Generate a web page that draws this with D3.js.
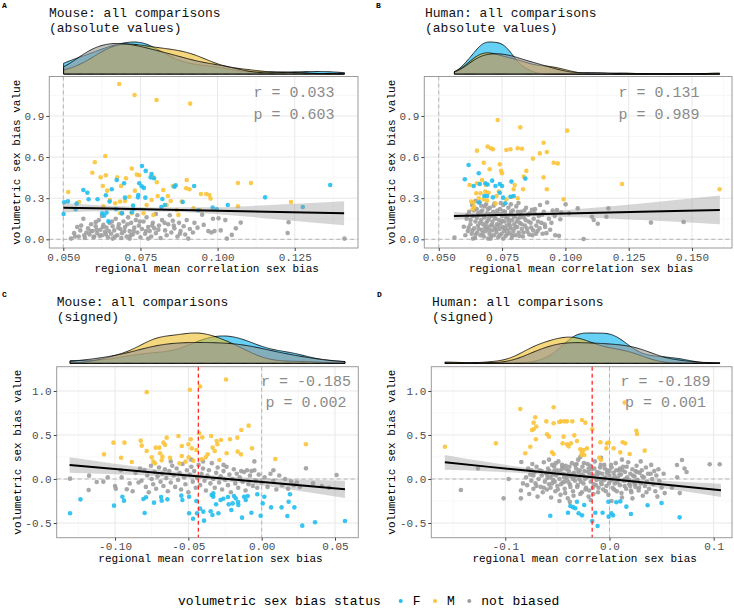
<!DOCTYPE html>
<html lang="en">
<head>
<meta charset="utf-8">
<title>volumetric sex bias vs regional mean correlation sex bias</title>
<style>
  body { margin: 0; background: #fff; }
  text { font-family: "Liberation Mono", "DejaVu Sans Mono", monospace; }
</style>
</head>
<body>
<script src="https://cdn.jsdelivr.net/npm/d3@7"></script>
<script>

// ---------- data ----------
var groups = ["F", "M", "not biased"];
var groupColors = ["#22BEF0", "#FBC43A", "#9E9E9E"];
var densColors = ["#00B2EE", "#EEBC26", "#969696"];
var legendTitle = "volumetric sex bias status";
var xTitle = "regional mean correlation sex bias";
var yTitle = "volumetric sex bias value";

// panel A : mouse, absolute values
var titleA = ["Mouse: all comparisons", "(absolute values)"];
var statsA = ["r = 0.033", "p = 0.603"];
var xTicksA = [0.05, 0.075, 0.1, 0.125];
var xLabelsA = ["0.050", "0.075", "0.100", "0.125"];
var yTicksA = [0, 0.3, 0.6, 0.9];
var yLabelsA = ["0.0", "0.3", "0.6", "0.9"];
var xDomainA = [0.04546, 0.1455];
var yDomainA = [-0.0635, 1.188];
var refXA = [0.05];
var meanXA = [];
var fitXA = [0.050, 0.065, 0.080, 0.100, 0.120, 0.141];
var fitYA = [0.231, 0.224, 0.2175, 0.2085, 0.1995, 0.190];
var fitSeA = [0.035, 0.020, 0.015, 0.025, 0.055, 0.088];
var fA = [[0.1365,0.396],[0.1154,0.306],[0.1033,0.250],[0.1276,0.236],[0.0755,0.535],[0.0767,0.499],[0.0786,0.477],[0.0783,0.452],[0.0794,0.445],[0.0746,0.409],[0.0754,0.387],[0.0761,0.375],[0.0673,0.433],[0.0657,0.365],[0.0565,0.360],[0.0578,0.340],[0.0582,0.292],[0.0611,0.292],[0.0638,0.321],[0.0650,0.275],[0.0515,0.277],[0.0503,0.270],[0.0543,0.260],[0.0501,0.185],[0.0540,0.219],[0.0697,0.409],[0.0700,0.304],[0.0743,0.323],[0.0742,0.306],[0.0766,0.304],[0.0887,0.272],[0.0924,0.389],[0.0864,0.394],[0.0860,0.384],[0.0821,0.294],[0.0829,0.250],[0.0818,0.236],[0.0726,0.246],[0.0727,0.219],[0.0722,0.197],[0.0671,0.219],[0.0626,0.190],[0.0632,0.173],[0.0646,0.131],[0.0640,0.195],[0.0690,0.190],[0.0937,0.212],[0.0984,0.231],[0.0997,0.219]];
var mA = [[0.0681,1.133],[0.0731,1.053],[0.0802,1.017],[0.0911,0.990],[0.0636,0.608],[0.0602,0.562],[0.0594,0.486],[0.0621,0.452],[0.0638,0.467],[0.0628,0.389],[0.0642,0.355],[0.0675,0.452],[0.0703,0.445],[0.0722,0.516],[0.0738,0.472],[0.0746,0.467],[0.0687,0.389],[0.0732,0.355],[0.0516,0.345],[0.0551,0.272],[0.0792,0.452],[0.0803,0.416],[0.0824,0.360],[0.0806,0.316],[0.0839,0.316],[0.0848,0.280],[0.0855,0.389],[0.0900,0.433],[0.0898,0.372],[0.0909,0.365],[0.0946,0.331],[0.0963,0.331],[0.0973,0.323],[0.0977,0.297],[0.1066,0.411],[0.1108,0.411],[0.1066,0.241],[0.1238,0.272],[0.0651,0.287],[0.0668,0.263],[0.0684,0.275],[0.0700,0.280],[0.0714,0.311],[0.0630,0.240],[0.0786,0.287],[0.0770,0.250],[0.0884,0.275],[0.0868,0.214],[0.0873,0.178],[0.0792,0.178],[0.0760,0.190],[0.0835,0.250],[0.0922,0.226],[0.0943,0.214],[0.0684,0.190],[0.0722,0.190]];
var nA = [[0.0535,0.045],[0.0545,0.09],[0.055,0.02],[0.0555,0.065],[0.057,0.01],[0.0575,0.05],[0.058,0.08],[0.0585,0.035],[0.059,0.11],[0.0595,0.06],[0.060,0.02],[0.0605,0.095],[0.061,0.045],[0.0615,0.14],[0.062,0.07],[0.0625,0.03],[0.063,0.105],[0.0635,0.055],[0.064,0.085],[0.0645,0.015],[0.065,0.12],[0.0655,0.04],[0.066,0.095],[0.0665,0.065],[0.067,0.15],[0.0675,0.03],[0.068,0.11],[0.0685,0.075],[0.069,0.045],[0.0695,0.13],[0.070,0.09],[0.0705,0.02],[0.071,0.16],[0.0715,0.06],[0.072,0.12],[0.0725,0.035],[0.073,0.085],[0.0735,0.14],[0.074,0.05],[0.0745,0.1],[0.075,0.015],[0.0755,0.075],[0.076,0.13],[0.0765,0.04],[0.077,0.16],[0.0775,0.09],[0.078,0.06],[0.0785,0.02],[0.079,0.12],[0.0795,0.08],[0.080,0.045],[0.081,0.1],[0.0815,0.01],[0.082,0.14],[0.083,0.065],[0.0835,0.03],[0.084,0.11],[0.085,0.05],[0.0855,0.135],[0.086,0.08],[0.087,0.02],[0.0875,0.12],[0.088,0.06],[0.089,0.095],[0.0895,0.035],[0.090,0.14],[0.091,0.075],[0.092,0.05],[0.0925,0.12],[0.0935,0.085],[0.095,0.18],[0.097,0.06],[0.098,0.05],[0.0985,0.15],[0.099,0.06],[0.1003,0.153],[0.101,0.065],[0.1025,0.14],[0.103,0.005],[0.1046,0.032],[0.1059,0.080],[0.1075,0.122],[0.1227,0.046],[0.123,0.124],[0.1411,0.005],[0.0525,0.005],[0.0565,0.15],[0.0625,0.17],[0.069,0.19],[0.074,0.175],[0.080,0.185],[0.0605,0.125],[0.066,0.005],[0.0715,0.005],[0.0775,0.005],[0.0845,0.175],[0.0905,0.005],[0.0955,0.105],[0.0538,0.02],[0.0558,0.1],[0.0568,0.03],[0.0588,0.06],[0.0598,0.015],[0.0608,0.07],[0.0618,0.025],[0.0628,0.09],[0.0638,0.035],[0.0648,0.06],[0.0658,0.13],[0.0668,0.02],[0.0678,0.085],[0.0688,0.01],[0.0698,0.06],[0.0708,0.11],[0.0718,0.03],[0.0728,0.06],[0.0748,0.13],[0.0768,0.06],[0.0788,0.1],[0.0808,0.07],[0.0828,0.12],[0.0858,0.1],[0.0878,0.04]];

// panel B : human, absolute values
var titleB = ["Human: all comparisons", "(absolute values)"];
var statsB = ["r = 0.131", "p = 0.989"];
var xTicksB = [0.05, 0.075, 0.1, 0.125, 0.15];
var xLabelsB = ["0.050", "0.075", "0.100", "0.125", "0.150"];
var yTicksB = [0, 0.3, 0.6, 0.9];
var yLabelsB = ["0.0", "0.3", "0.6", "0.9"];
var xDomainB = [0.0443, 0.1658];
var yDomainB = [-0.0635, 1.188];
var refXB = [0.05];
var meanXB = [];
var fitXB = [0.056, 0.070, 0.080, 0.100, 0.130, 0.161];
var fitYB = [0.170, 0.1759, 0.180, 0.1884, 0.201, 0.214];
var fitSeB = [0.030, 0.013, 0.012, 0.025, 0.060, 0.105];
var fB = [[0.0618,0.542],[0.0603,0.438],[0.0658,0.482],[0.0638,0.389],[0.0662,0.404],[0.0684,0.409],[0.0693,0.400],[0.0711,0.428],[0.0724,0.389],[0.0741,0.404],[0.0750,0.389],[0.0787,0.421],[0.0842,0.443],[0.0691,0.316],[0.0714,0.306],[0.0741,0.340],[0.0754,0.304],[0.0783,0.311],[0.0796,0.316],[0.0658,0.268],[0.0763,0.263],[0.0680,0.316]];
var mB = [[0.0733,0.871],[0.0822,0.817],[0.1007,0.793],[0.0914,0.705],[0.0651,0.647],[0.0693,0.676],[0.0706,0.664],[0.0714,0.657],[0.0767,0.652],[0.0783,0.657],[0.0812,0.664],[0.0829,0.661],[0.0927,0.637],[0.0899,0.627],[0.0678,0.559],[0.0741,0.547],[0.0746,0.499],[0.0750,0.482],[0.0701,0.511],[0.0872,0.589],[0.0954,0.559],[0.0970,0.554],[0.0846,0.499],[0.0836,0.457],[0.0914,0.452],[0.0927,0.365],[0.0993,0.292],[0.1224,0.404],[0.1609,0.365],[0.0833,0.365],[0.0800,0.396],[0.0796,0.365],[0.0622,0.396],[0.0651,0.409],[0.0671,0.433],[0.0686,0.396],[0.0648,0.336],[0.0665,0.336],[0.0684,0.348],[0.0697,0.340],[0.0658,0.300],[0.0638,0.268],[0.0628,0.275],[0.0678,0.292],[0.0691,0.282],[0.0728,0.316],[0.0737,0.348],[0.0812,0.299],[0.0767,0.292],[0.0640,0.238],[0.0634,0.219],[0.0724,0.260],[0.0789,0.311]];
var nB = [[0.0562,0.012],[0.0599,0.092],[0.0605,0.03],[0.061,0.15],[0.0615,0.06],[0.062,0.2],[0.0625,0.11],[0.063,0.04],[0.0632,0.25],[0.0635,0.17],[0.064,0.08],[0.0643,0.01],[0.0645,0.13],[0.065,0.22],[0.0652,0.05],[0.0655,0.1],[0.066,0.18],[0.0662,0.27],[0.0665,0.03],[0.0668,0.14],[0.067,0.07],[0.0672,0.21],[0.0675,0.11],[0.0678,0.02],[0.068,0.16],[0.0682,0.24],[0.0685,0.06],[0.0688,0.12],[0.069,0.19],[0.0692,0.09],[0.0695,0.005],[0.0698,0.15],[0.070,0.04],[0.0702,0.23],[0.0705,0.1],[0.0708,0.17],[0.071,0.065],[0.0712,0.13],[0.0715,0.2],[0.0718,0.03],[0.072,0.26],[0.0722,0.085],[0.0725,0.15],[0.0728,0.05],[0.073,0.11],[0.0732,0.19],[0.0735,0.015],[0.0738,0.14],[0.074,0.075],[0.0742,0.22],[0.0745,0.12],[0.0748,0.04],[0.075,0.17],[0.0752,0.09],[0.0755,0.25],[0.0758,0.06],[0.076,0.13],[0.0762,0.2],[0.0765,0.025],[0.0768,0.1],[0.077,0.16],[0.0772,0.07],[0.0775,0.23],[0.0778,0.12],[0.078,0.045],[0.0783,0.18],[0.0785,0.08],[0.0788,0.01],[0.079,0.14],[0.0793,0.21],[0.0795,0.06],[0.0798,0.11],[0.080,0.17],[0.0803,0.03],[0.0806,0.24],[0.081,0.09],[0.0813,0.15],[0.0816,0.05],[0.082,0.12],[0.0824,0.2],[0.0828,0.075],[0.0832,0.02],[0.0836,0.16],[0.084,0.1],[0.0845,0.23],[0.085,0.055],[0.0855,0.13],[0.086,0.19],[0.0865,0.085],[0.087,0.03],[0.0875,0.15],[0.088,0.22],[0.0885,0.1],[0.089,0.06],[0.0895,0.17],[0.090,0.25],[0.0905,0.12],[0.091,0.04],[0.0915,0.2],[0.092,0.09],[0.0928,0.268],[0.0935,0.15],[0.094,0.07],[0.095,0.21],[0.096,0.03],[0.0967,0.214],[0.0975,0.025],[0.098,0.146],[0.0984,0.195],[0.1001,0.255],[0.1015,0.19],[0.1049,0.226],[0.1072,0.002],[0.1105,0.165],[0.1112,0.141],[0.1128,0.114],[0.1162,0.165],[0.117,0.226],[0.1338,0.122],[0.1467,0.126],[0.0635,0.005],[0.0668,0.245],[0.0705,0.005],[0.0745,0.265],[0.0785,0.255],[0.0725,0.185],[0.0695,0.22],[0.0655,0.19],[0.0645,0.28],[0.0755,0.005],[0.0815,0.265],[0.0612,0.175],[0.0618,0.085],[0.0626,0.14],[0.0633,0.065],[0.0638,0.21],[0.0646,0.035],[0.0651,0.155],[0.0658,0.075],[0.0663,0.12],[0.0667,0.2],[0.0673,0.045],[0.0677,0.175],[0.0683,0.09],[0.0687,0.255],[0.0693,0.135],[0.0697,0.07],[0.0703,0.185],[0.0707,0.025],[0.0711,0.105],[0.0717,0.245],[0.0721,0.155],[0.0726,0.07],[0.0731,0.21],[0.0736,0.1],[0.0741,0.03],[0.0746,0.185],[0.0751,0.135],[0.0756,0.205],[0.0761,0.08],[0.0766,0.16],[0.0771,0.04],[0.0776,0.145],[0.0781,0.1],[0.0786,0.2],[0.0791,0.03],[0.0797,0.165],[0.0802,0.085],[0.0808,0.13],[0.0812,0.2],[0.0818,0.025],[0.0822,0.16],[0.0827,0.11],[0.0834,0.05],[0.0838,0.21],[0.0843,0.14],[0.0848,0.08],[0.0853,0.18],[0.0858,0.035],[0.0863,0.12],[0.0868,0.215],[0.0873,0.065],[0.0878,0.19],[0.0884,0.04],[0.0892,0.13],[0.0898,0.08],[0.0908,0.18],[0.0918,0.11],[0.0925,0.045],[0.0945,0.12],[0.0958,0.17]];

// panel C : mouse, signed
var titleC = ["Mouse: all comparisons", "(signed)"];
var statsC = ["r = -0.185", "p = 0.002"];
var xTicksC = [-0.1, -0.05, 0, 0.05];
var xLabelsC = ["-0.10", "-0.05", "0.00", "0.05"];
var yTicksC = [-0.5, 0, 0.5, 1];
var yLabelsC = ["-0.5", "0.0", "0.5", "1.0"];
var xDomainC = [-0.1398, 0.0659];
var yDomainC = [-0.667, 1.276];
var refXC = [0];
var meanXC = [-0.0432];
var fitXC = [-0.131, -0.10, -0.07, -0.04, -0.01, 0.02, 0.0568];
var fitYC = [0.159, 0.1134, 0.0693, 0.0252, -0.0189, -0.0630, -0.117];
var fitSeC = [0.087, 0.060, 0.037, 0.027, 0.035, 0.060, 0.098];
var fC = [[-0.1307,-0.390],[-0.1236,-0.231],[-0.1007,-0.303],[-0.0950,-0.201],[-0.0939,-0.246],[-0.0798,-0.386],[-0.0807,-0.227],[-0.0789,-0.208],[-0.0734,-0.269],[-0.0686,-0.205],[-0.0682,-0.246],[-0.0643,-0.231],[-0.0548,-0.189],[-0.0541,-0.239],[-0.0495,-0.201],[-0.0495,-0.390],[-0.0468,-0.451],[-0.0445,-0.250],[-0.0441,-0.390],[-0.0420,-0.337],[-0.0398,-0.371],[-0.0393,-0.473],[-0.0348,-0.367],[-0.0336,-0.409],[-0.0341,-0.182],[-0.0330,-0.201],[-0.0330,-0.163],[-0.0311,-0.288],[-0.0295,-0.390],[-0.0280,-0.239],[-0.0261,-0.224],[-0.0230,-0.205],[-0.0225,-0.288],[-0.0207,-0.352],[-0.0198,-0.277],[-0.0189,-0.193],[-0.0177,-0.220],[-0.0161,-0.261],[-0.0159,-0.295],[-0.0134,-0.439],[-0.0120,-0.201],[-0.0109,-0.239],[-0.0095,-0.193],[-0.0070,-0.383],[-0.0030,-0.174],[-0.0007,-0.417],[0.0007,-0.277],[0.0018,-0.201],[0.0064,-0.322],[0.0136,-0.322],[0.0175,-0.420],[0.0184,-0.258],[0.0193,-0.174],[0.0223,-0.322],[0.0277,-0.530],[0.0364,-0.492],[0.0568,-0.477]];
var mC = [[-0.0784,0.987],[-0.0489,1.013],[-0.0420,1.051],[-0.0243,1.131],[-0.1011,0.413],[-0.0936,0.413],[-0.1075,0.280],[-0.0959,0.242],[-0.0886,0.193],[-0.0825,0.436],[-0.0818,0.379],[-0.0784,0.318],[-0.0750,0.246],[-0.0739,0.197],[-0.0727,0.178],[-0.0723,0.356],[-0.0698,0.356],[-0.0693,0.292],[-0.0670,0.413],[-0.0659,0.386],[-0.0648,0.470],[-0.0677,0.254],[-0.0682,0.212],[-0.0625,0.242],[-0.0568,0.489],[-0.0545,0.375],[-0.0545,0.261],[-0.0561,0.178],[-0.0520,0.197],[-0.0500,0.394],[-0.0484,0.451],[-0.0498,0.246],[-0.0477,0.348],[-0.0466,0.208],[-0.0445,0.330],[-0.0427,0.519],[-0.0405,0.473],[-0.0411,0.223],[-0.0382,0.246],[-0.0368,0.280],[-0.0345,0.489],[-0.0334,0.356],[-0.0302,0.394],[-0.0320,0.318],[-0.0289,0.216],[-0.0277,0.443],[-0.0307,0.432],[-0.0239,0.292],[-0.0216,0.451],[-0.0166,0.470],[-0.0164,0.311],[-0.0141,0.280],[-0.0139,0.557],[-0.0089,0.606],[-0.0066,0.348],[0.0093,0.227],[0.0302,0.394]];
var nC = [[-0.1307,0.004],[-0.1177,0.038],[-0.118,-0.125],[-0.1125,-0.034],[-0.1,-0.08],[-0.0995,-0.11],[-0.092,-0.117],[-0.088,-0.14],[-0.0955,0.02],[-0.09,-0.05],[-0.086,0.07],[-0.083,0.12],[-0.082,-0.02],[-0.08,0.1],[-0.079,-0.09],[-0.078,0.04],[-0.077,-0.15],[-0.0755,0.15],[-0.075,0.0],[-0.074,-0.06],[-0.073,0.08],[-0.072,-0.11],[-0.071,0.03],[-0.07,0.13],[-0.069,-0.03],[-0.068,0.06],[-0.067,-0.08],[-0.066,0.11],[-0.065,0.01],[-0.064,-0.14],[-0.063,0.09],[-0.062,-0.04],[-0.061,0.15],[-0.06,0.04],[-0.059,-0.09],[-0.058,0.12],[-0.057,-0.01],[-0.056,0.07],[-0.055,-0.12],[-0.054,0.17],[-0.053,0.02],[-0.052,-0.06],[-0.051,0.1],[-0.05,-0.15],[-0.049,0.05],[-0.048,0.14],[-0.047,-0.03],[-0.046,0.09],[-0.045,-0.1],[-0.044,0.01],[-0.043,0.16],[-0.042,-0.07],[-0.041,0.06],[-0.04,0.12],[-0.039,-0.02],[-0.038,-0.13],[-0.037,0.04],[-0.036,0.1],[-0.035,-0.05],[-0.034,0.18],[-0.033,0.0],[-0.032,-0.1],[-0.031,0.07],[-0.03,0.13],[-0.029,-0.04],[-0.028,0.03],[-0.027,-0.12],[-0.026,0.09],[-0.025,-0.01],[-0.024,0.14],[-0.023,-0.07],[-0.022,0.05],[-0.021,-0.15],[-0.02,0.0],[-0.019,0.11],[-0.018,-0.05],[-0.017,0.06],[-0.016,-0.1],[-0.015,0.02],[-0.014,0.09],[-0.013,-0.03],[-0.012,0.08],[-0.011,-0.13],[-0.01,0.1],[-0.009,-0.06],[-0.008,0.04],[-0.007,0.09],[-0.006,-0.08],[-0.005,0.1],[-0.004,-0.02],[-0.003,-0.1],[-0.002,0.05],[0.0,-0.04],[0.002,0.02],[0.004,-0.09],[0.006,0.06],[0.008,-0.02],[0.01,-0.12],[0.012,0.04],[0.014,-0.07],[0.016,0.0],[0.018,-0.11],[0.02,-0.03],[0.022,-0.07],[0.024,-0.04],[0.026,-0.09],[0.0302,0.121],[0.0511,0.045],[0.035,-0.05],[0.041,-0.08],[0.046,-0.1],[-0.108,-0.03],[-0.105,0.02],[-0.096,0.1],[-0.084,-0.04],[-0.062,0.2],[-0.048,0.22],[-0.04,0.2],[-0.026,0.16],[-0.005,0.2],[0.008,0.1]];

// panel D : human, signed
var titleD = ["Human: all comparisons", "(signed)"];
var statsD = ["r = -0.189", "p = 0.001"];
var xTicksD = [-0.1, 0, 0.1];
var xLabelsD = ["-0.1", "0.0", "0.1"];
var yTicksD = [-0.5, 0, 0.5, 1];
var yLabelsD = ["-0.5", "0.0", "0.5", "1.0"];
var xDomainD = [-0.171, 0.1176];
var yDomainD = [-0.667, 1.276];
var refXD = [0];
var meanXD = [-0.0166];
var fitXD = [-0.158, -0.12, -0.08, -0.04, 0.0, 0.04, 0.107];
var fitYD = [0.189, 0.1434, 0.0954, 0.0474, -0.0006, -0.0486, -0.129];
var fitSeD = [0.085, 0.055, 0.032, 0.022, 0.025, 0.037, 0.075];
var fD = [[-0.0568,-0.417],[-0.0376,-0.307],[-0.0350,-0.320],[-0.0328,-0.333],[-0.0312,-0.258],[-0.0398,-0.383],[-0.0296,-0.390],[-0.0264,-0.413],[-0.0242,-0.295],[-0.0165,-0.477],[-0.0114,-0.534],[-0.0136,-0.383],[-0.0066,-0.383],[-0.0011,-0.258],[-0.0008,-0.428],[0.0018,-0.390],[0.0034,-0.413],[0.0066,-0.265],[0.0104,-0.254],[0.0162,-0.314],[0.0206,-0.398],[0.0366,-0.299],[0.0500,-0.273],[0.0674,-0.436]];
var mD = [[-0.0856,0.795],[-0.0536,0.815],[0.0146,0.868],[-0.1579,0.367],[-0.1090,0.405],[-0.0728,0.640],[-0.0712,0.701],[-0.0702,0.595],[-0.0744,0.557],[-0.0728,0.565],[-0.0606,0.655],[-0.0536,0.633],[-0.0482,0.648],[-0.0466,0.655],[-0.0434,0.655],[-0.0408,0.655],[-0.0357,0.655],[-0.0264,0.670],[-0.0232,0.640],[-0.0165,0.564],[-0.0600,0.508],[-0.0581,0.481],[-0.0706,0.451],[-0.0440,0.481],[-0.0338,0.496],[-0.0312,0.432],[-0.0760,0.367],[-0.0808,0.292],[-0.0552,0.303],[-0.0536,0.284],[-0.0450,0.405],[-0.0408,0.394],[-0.0392,0.371],[-0.0370,0.405],[-0.0280,0.337],[-0.0248,0.330],[-0.0216,0.348],[-0.0270,0.273],[-0.0242,0.273],[-0.0264,0.303],[-0.0088,0.417],[-0.0024,0.405],[-0.0008,0.413],[-0.0030,0.348],[0.0040,0.348],[0.0104,0.303],[0.0126,0.417],[0.0152,0.405],[0.0194,0.284],[0.0258,0.549],[0.0264,0.511],[0.0338,0.322],[-0.0098,0.242],[-0.0082,0.216]];
var nD = [[-0.1426,-0.125],[-0.1262,0.121],[-0.1016,-0.22],[-0.0968,0.0],[-0.0846,0.193],[-0.085,-0.13],[-0.085,-0.22],[0.0648,0.159],[0.0696,0.216],[0.0675,-0.16],[0.072,0.12],[0.074,0.08],[0.0962,0.167],[0.1058,0.167],[0.065,0.02],[0.06,-0.1],[-0.08,0.02],[-0.079,-0.07],[-0.078,0.12],[-0.077,-0.17],[-0.076,0.05],[-0.075,-0.02],[-0.074,0.17],[-0.073,-0.11],[-0.072,0.08],[-0.071,-0.05],[-0.07,0.14],[-0.069,-0.2],[-0.068,0.0],[-0.067,0.1],[-0.066,-0.09],[-0.065,0.04],[-0.064,-0.15],[-0.063,0.19],[-0.062,-0.03],[-0.061,0.07],[-0.06,-0.12],[-0.059,0.12],[-0.058,-0.06],[-0.057,0.02],[-0.056,-0.21],[-0.055,0.16],[-0.054,-0.01],[-0.053,0.09],[-0.052,-0.14],[-0.051,0.04],[-0.05,-0.08],[-0.049,0.2],[-0.048,0.0],[-0.047,-0.18],[-0.046,0.11],[-0.045,-0.04],[-0.044,0.06],[-0.043,-0.11],[-0.042,0.15],[-0.041,0.01],[-0.04,-0.22],[-0.039,0.09],[-0.038,-0.06],[-0.037,0.03],[-0.036,0.18],[-0.035,-0.14],[-0.034,0.07],[-0.033,-0.02],[-0.032,0.12],[-0.031,-0.09],[-0.03,0.22],[-0.029,0.0],[-0.028,-0.17],[-0.027,0.05],[-0.026,0.14],[-0.025,-0.05],[-0.024,0.09],[-0.023,-0.12],[-0.022,0.02],[-0.021,0.17],[-0.02,-0.2],[-0.019,0.06],[-0.018,-0.03],[-0.017,0.11],[-0.016,-0.1],[-0.015,0.04],[-0.014,0.2],[-0.013,-0.07],[-0.012,0.08],[-0.011,-0.15],[-0.01,0.0],[-0.009,0.13],[-0.008,-0.04],[-0.007,0.06],[-0.006,-0.12],[-0.005,0.16],[-0.004,0.02],[-0.003,-0.08],[-0.002,0.1],[-0.001,-0.18],[0.0,0.04],[0.001,-0.02],[0.002,0.13],[0.003,-0.1],[0.004,0.07],[0.005,-0.05],[0.006,0.18],[0.007,-0.14],[0.008,0.01],[0.009,0.1],[0.01,-0.07],[0.011,0.05],[0.012,-0.21],[0.013,0.14],[0.014,-0.02],[0.015,0.08],[0.016,-0.11],[0.017,0.02],[0.018,0.19],[0.019,-0.06],[0.02,0.06],[0.021,-0.15],[0.022,0.11],[0.023,-0.03],[0.024,0.03],[0.025,-0.09],[0.026,0.15],[0.027,-0.01],[0.028,-0.13],[0.029,0.07],[0.03,-0.05],[0.031,0.1],[0.032,-0.19],[0.033,0.02],[0.034,-0.08],[0.035,0.13],[0.036,-0.03],[0.037,0.06],[0.038,-0.11],[0.04,0.16],[0.041,0.0],[0.042,-0.06],[0.043,0.09],[0.044,-0.14],[0.045,0.04],[0.046,-0.2],[0.047,0.11],[0.048,-0.02],[0.05,-0.1],[0.052,0.06],[0.053,-0.16],[-0.06,0.05],[-0.05,0.1],[-0.045,0.13],[-0.04,0.05],[-0.035,0.0],[-0.03,0.08],[-0.025,0.04],[-0.02,0.12],[-0.015,-0.06],[-0.01,0.07],[-0.005,-0.01],[0.0,0.09],[0.005,0.03],[0.01,0.12],[0.015,0.0],[0.02,-0.08],[0.025,0.09],[-0.055,-0.05],[-0.065,0.09],[-0.07,-0.08],[-0.075,0.1],[-0.058,0.22],[-0.048,-0.25],[-0.038,-0.26],[-0.028,0.25],[-0.018,-0.24],[-0.008,0.24],[0.002,-0.25],[0.012,0.22],[0.022,-0.22],[0.03,0.2],[-0.033,0.16],[-0.043,-0.03],[-0.053,0.14],[-0.063,-0.1],[-0.073,0.04],[-0.083,-0.05],[-0.0595,0.01],[-0.0575,0.09],[-0.0565,-0.1],[-0.0545,0.05],[-0.0525,-0.03],[-0.0515,0.18],[-0.0495,-0.12],[-0.0475,0.07],[-0.0465,-0.06],[-0.0455,0.16],[-0.0435,0.02],[-0.0425,-0.16],[-0.0415,0.11],[-0.0395,-0.03],[-0.0385,0.14],[-0.0375,-0.09],[-0.0355,0.06],[-0.0345,-0.19],[-0.0325,0.03],[-0.0315,0.17],[-0.0305,-0.07],[-0.0285,0.1],[-0.0275,-0.03],[-0.0265,-0.15],[-0.0245,0.18],[-0.0235,0.0],[-0.0225,-0.1],[-0.0205,0.08],[-0.0195,-0.13],[-0.0185,0.15],[-0.0165,0.03],[-0.0155,-0.17],[-0.0145,0.12],[-0.0125,-0.01],[-0.0115,0.05],[-0.0105,-0.1],[-0.0085,0.16],[-0.0075,-0.06],[-0.0065,0.0],[-0.0045,0.12],[-0.0035,-0.14],[-0.0025,0.07],[-0.0005,-0.05],[0.0015,0.16],[0.0025,0.0],[0.0045,-0.12],[0.0065,0.1],[0.0075,-0.04],[0.0095,0.05],[0.0115,-0.16],[0.0125,0.1],[0.0145,-0.08],[0.0165,0.14],[0.0185,-0.01],[0.0205,-0.13],[0.0225,0.04],[0.0245,-0.06],[0.0265,0.08],[0.0285,-0.1],[0.0315,0.03],[0.0355,-0.15],[0.0395,0.06]];

// ---------- layout ----------
var w = 734;
var h = 609;
var svg = d3.select("body").append("svg").attr("width", w).attr("height", h);

// gaussian kde with R's bw.nrd0 bandwidth
function kde(xs, lo, hi) {
  var s = xs.slice().sort(d3.ascending);
  var n = s.length;
  var sd = d3.deviation(s);
  var iqr = d3.quantile(s, 0.75) - d3.quantile(s, 0.25);
  var bw = 0.9 * Math.min(sd, iqr / 1.34) * Math.pow(n, -0.2);
  var out = [];
  for (var i = 0; i <= 256; i++) {
    var x = lo + (hi - lo) * i / 256;
    var sum = 0;
    for (var j = 0; j < n; j++) {
      var u = (x - s[j]) / bw;
      sum += Math.exp(-0.5 * u * u);
    }
    out.push([x, sum / (n * bw * Math.sqrt(2 * Math.PI))]);
  }
  return out;
}

function drawPanel(p) {
  var g = svg.append("g");
  var x = d3.scaleLinear().domain(p.xDomain).range([p.box.left, p.box.right]);
  var y = d3.scaleLinear().domain(p.yDomain).range([p.box.bottom, p.box.top]);

  // panel label and title
  g.append("text").text(p.tag).attr("x", p.tagX).attr("y", p.tagY)
    .attr("font-size", 8).attr("font-weight", "bold");
  p.title.forEach(function(t, i) {
    g.append("text").text(t).attr("x", p.titleX).attr("y", p.titleY + i * 15)
      .attr("font-size", 13).attr("fill", "#111");
  });

  // grid lines (major + minor)
  var minorX = [], minorY = [];
  for (var i = 0; i < p.xTicks.length - 1; i++) minorX.push((p.xTicks[i] + p.xTicks[i + 1]) / 2);
  minorX.push(p.xTicks[p.xTicks.length - 1] + (p.xTicks[1] - p.xTicks[0]) / 2);
  minorX.unshift(p.xTicks[0] - (p.xTicks[1] - p.xTicks[0]) / 2);
  for (var k = 0; k < p.yTicks.length - 1; k++) minorY.push((p.yTicks[k] + p.yTicks[k + 1]) / 2);
  minorY.push(p.yTicks[p.yTicks.length - 1] + (p.yTicks[1] - p.yTicks[0]) / 2);
  minorY.unshift(p.yTicks[0] - (p.yTicks[1] - p.yTicks[0]) / 2);
  minorX = minorX.filter(function(v) { return v > p.xDomain[0] && v < p.xDomain[1]; });
  minorY = minorY.filter(function(v) { return v > p.yDomain[0] && v < p.yDomain[1]; });

  var grid = g.append("g");
  grid.selectAll(".mx").data(minorX).enter().append("line")
    .attr("x1", x).attr("x2", x).attr("y1", p.box.top).attr("y2", p.box.bottom)
    .attr("stroke", "#f4f4f4").attr("stroke-width", 0.6);
  grid.selectAll(".my").data(minorY).enter().append("line")
    .attr("y1", y).attr("y2", y).attr("x1", p.box.left).attr("x2", p.box.right)
    .attr("stroke", "#f4f4f4").attr("stroke-width", 0.6);
  grid.selectAll(".gx").data(p.xTicks).enter().append("line")
    .attr("x1", x).attr("x2", x).attr("y1", p.box.top).attr("y2", p.box.bottom)
    .attr("stroke", "#e8e8e8").attr("stroke-width", 1);
  grid.selectAll(".gy").data(p.yTicks).enter().append("line")
    .attr("y1", y).attr("y2", y).attr("x1", p.box.left).attr("x2", p.box.right)
    .attr("stroke", "#e8e8e8").attr("stroke-width", 1);

  // reference lines
  g.append("line").attr("x1", p.box.left).attr("x2", p.box.right)
    .attr("y1", y(0)).attr("y2", y(0))
    .attr("stroke", "#b5b5b5").attr("stroke-width", 1).attr("stroke-dasharray", "4,3");
  g.selectAll(".ref").data(p.refX).enter().append("line")
    .attr("x1", x).attr("x2", x).attr("y1", p.box.top).attr("y2", p.box.bottom)
    .attr("stroke", "#b5b5b5").attr("stroke-width", 1).attr("stroke-dasharray", "4,3");

  // points
  var pts = g.append("g");
  [2, 1, 0].forEach(function(gi) {
    pts.selectAll(".p" + gi).data(p.points[gi]).enter().append("circle")
      .attr("cx", function(d) { return x(d[0]); })
      .attr("cy", function(d) { return y(d[1]); })
      .attr("r", 2.3)
      .attr("fill", groupColors[gi])
      .attr("fill-opacity", 0.9);
  });

  // mean line (red)
  g.selectAll(".mean").data(p.meanX).enter().append("line")
    .attr("x1", x).attr("x2", x).attr("y1", p.box.top).attr("y2", p.box.bottom)
    .attr("stroke", "#ff2a2a").attr("stroke-width", 1.3).attr("stroke-dasharray", "4,3");

  // regression band and line
  var fit = p.fitX.map(function(v, i) { return [v, p.fitY[i], p.fitSe[i]]; });
  g.append("path").datum(fit)
    .attr("d", d3.area().curve(d3.curveMonotoneX)
      .x(function(d) { return x(d[0]); })
      .y0(function(d) { return y(d[1] - d[2]); })
      .y1(function(d) { return y(d[1] + d[2]); }))
    .attr("fill", "#999").attr("fill-opacity", 0.4);
  g.append("path").datum(fit)
    .attr("d", d3.line().x(function(d) { return x(d[0]); }).y(function(d) { return y(d[1]); }))
    .attr("fill", "none").attr("stroke", "#000").attr("stroke-width", 2);

  // stats text
  p.stats.forEach(function(t, i) {
    g.append("text").text(t).attr("x", p.statsX).attr("y", p.statsY + i * p.statsGap)
      .attr("text-anchor", "middle").attr("font-size", 15).attr("fill", "#8a8a8a");
  });

  // panel border
  g.append("rect").attr("x", p.box.left).attr("y", p.box.top)
    .attr("width", p.box.right - p.box.left).attr("height", p.box.bottom - p.box.top)
    .attr("fill", "none").attr("stroke", "#9a9a9a").attr("stroke-width", 1);

  // axes
  var xAxis = d3.axisBottom(x).tickValues(p.xTicks).tickSize(3).tickPadding(2)
    .tickFormat(function(d, i) { return p.xLabels[i]; });
  var yAxis = d3.axisLeft(y).tickValues(p.yTicks).tickSize(3).tickPadding(2)
    .tickFormat(function(d, i) { return p.yLabels[i]; });
  var gx = g.append("g").attr("transform", "translate(0," + p.box.bottom + ")").call(xAxis);
  var gy = g.append("g").attr("transform", "translate(" + p.box.left + ",0)").call(yAxis);
  [gx, gy].forEach(function(a) {
    a.select(".domain").remove();
    a.selectAll(".tick line").attr("stroke", "#444");
    a.selectAll(".tick text").attr("fill", "#4d4d4d").attr("font-size", 11)
      .attr("font-family", "Liberation Mono, monospace");
  });

  g.append("text").text(xTitle).attr("x", (p.box.left + p.box.right) / 2 + 3)
    .attr("y", p.box.bottom + 24).attr("text-anchor", "middle").attr("font-size", 11);
  g.append("text").text(yTitle)
    .attr("transform", "translate(" + p.yTitleX + "," + (p.box.top + p.box.bottom) / 2 + ") rotate(-90)")
    .attr("text-anchor", "middle").attr("font-size", 11).attr("dy", "0.35em");

  // marginal densities (F, M, not biased stacked as transparent layers)
  var all = p.points[0].concat(p.points[1], p.points[2]);
  var lo = d3.min(all, function(d) { return d[0]; });
  var hi = d3.max(all, function(d) { return d[0]; });
  var dens = p.points.map(function(pp) { return kde(pp.map(function(d) { return d[0]; }), lo, hi); });
  var dmax = d3.max(dens, function(dd) { return d3.max(dd, function(d) { return d[1]; }); });
  var yd = d3.scaleLinear().domain([0, dmax]).range([p.dens[0], p.dens[1]]);
  dens.forEach(function(dd, gi) {
    g.append("path").datum(dd)
      .attr("d", d3.area().x(function(d) { return x(d[0]); }).y0(p.dens[0])
        .y1(function(d) { return yd(d[1]); }))
      .attr("fill", densColors[gi]).attr("fill-opacity", 0.6)
      .attr("stroke", "#000").attr("stroke-width", 0.8);
  });
}

drawPanel({tag: "A", tagX: 2, tagY: 8, title: titleA, titleX: 49, titleY: 17,
  box: {left: 49.3, right: 358, top: 76.5, bottom: 248}, dens: [74, 42],
  xDomain: xDomainA, yDomain: yDomainA, xTicks: xTicksA, xLabels: xLabelsA,
  yTicks: yTicksA, yLabels: yLabelsA, refX: refXA, meanX: meanXA,
  fitX: fitXA, fitY: fitYA, fitSe: fitSeA, points: [fA, mA, nA],
  stats: statsA, statsX: 294, statsY: 97, statsGap: 22, yTitleX: 16.5});

drawPanel({tag: "B", tagX: 376, tagY: 8, title: titleB, titleX: 425, titleY: 17,
  box: {left: 424.3, right: 732, top: 76.5, bottom: 248}, dens: [74, 42],
  xDomain: xDomainB, yDomain: yDomainB, xTicks: xTicksB, xLabels: xLabelsB,
  yTicks: yTicksB, yLabels: yLabelsB, refX: refXB, meanX: meanXB,
  fitX: fitXB, fitY: fitYB, fitSe: fitSeB, points: [fB, mB, nB],
  stats: statsB, statsX: 659, statsY: 97, statsGap: 22, yTitleX: 391.5});

drawPanel({tag: "C", tagX: 2, tagY: 297, title: titleC, titleX: 56.7, titleY: 306,
  box: {left: 56.7, right: 358.3, top: 366.7, bottom: 537.7}, dens: [363.3, 333],
  xDomain: xDomainC, yDomain: yDomainC, xTicks: xTicksC, xLabels: xLabelsC,
  yTicks: yTicksC, yLabels: yLabelsC, refX: refXC, meanX: meanXC,
  fitX: fitXC, fitY: fitYC, fitSe: fitSeC, points: [fC, mC, nC],
  stats: statsC, statsX: 306, statsY: 386, statsGap: 21, yTitleX: 16.7});

drawPanel({tag: "D", tagX: 377, tagY: 297, title: titleD, titleX: 432, titleY: 306,
  box: {left: 431.3, right: 732, top: 366.7, bottom: 537.7}, dens: [363.3, 333],
  xDomain: xDomainD, yDomain: yDomainD, xTicks: xTicksD, xLabels: xLabelsD,
  yTicks: yTicksD, yLabels: yLabelsD, refX: refXD, meanX: meanXD,
  fitX: fitXD, fitY: fitYD, fitSe: fitSeD, points: [fD, mD, nD],
  stats: statsD, statsX: 665.5, statsY: 386, statsGap: 21, yTitleX: 391.5});

// legend
var legend = svg.append("g");
legend.append("text").text(legendTitle).attr("x", 178).attr("y", 605).attr("font-size", 13);
var legX = [400.7, 435, 469.3];
groups.forEach(function(gname, i) {
  legend.append("circle").attr("cx", legX[i]).attr("cy", 601).attr("r", 2)
    .attr("fill", groupColors[i]);
  legend.append("text").text(gname).attr("x", legX[i] + 12).attr("y", 605).attr("font-size", 13);
});

</script>
</body>
</html>
